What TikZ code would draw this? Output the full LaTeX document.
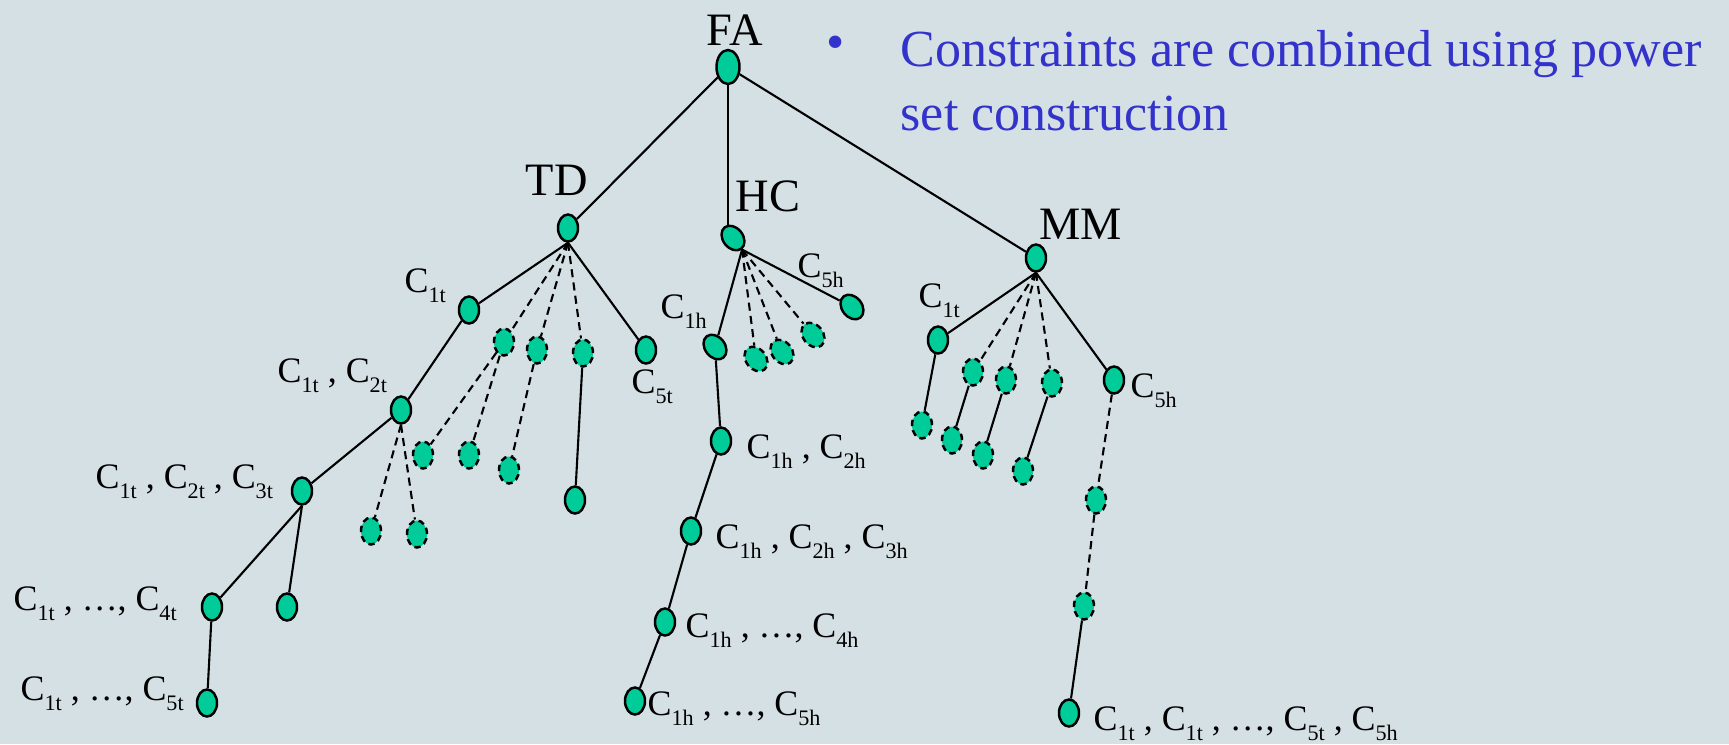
\documentclass[tikz,border=0pt]{standalone}
\usepackage{fontspec}
\setmainfont{Liberation Serif}
\usetikzlibrary{shapes.geometric}
\definecolor{bgc}{RGB}{213,224,229}
\definecolor{nodefill}{RGB}{0,204,153}
\definecolor{bluetext}{RGB}{51,51,204}
\newcommand\sbs[1]{\raisebox{-0.3em}{\fontsize{6.3}{7}\selectfont #1}}
\tikzset{
  vtx/.style={ellipse, draw=black, fill=nodefill, line width=0.7pt, inner sep=0pt, minimum width=0.2cm, minimum height=0.27cm},
  dvtx/.style={vtx, dash pattern=on 1.8pt off 1.2pt},
  tilt/.style={rotate=38},
  edge/.style={line width=0.6pt},
  dedge/.style={line width=0.6pt, dash pattern=on 2.3pt off 1.5pt},
  biglbl/.style={anchor=base west, inner sep=0pt, font=\fontsize{13.2}{15}\selectfont},
  lbl/.style={anchor=base west, inner sep=0pt, font=\fontsize{10.2}{12}\selectfont},
  bluelbl/.style={anchor=base west, inner sep=0pt, text=bluetext, font=\fontsize{14.8}{18}\selectfont}
}
\begin{document}
\begin{tikzpicture}[x=0.01cm, y=-0.01cm]
\fill[bgc] (0,0) rectangle (1729,744);
\useasboundingbox (0,0) rectangle (1729,744);

% root and main branches
\node[vtx, minimum width=0.23cm, minimum height=0.34cm] (FA) at (728,67) {};
\node[vtx] (TD) at (568,228) {};
\node[vtx, tilt] (HC) at (733,238) {};
\node[vtx] (MM) at (1036,258) {};

% TD subtree
\node[vtx] (t1) at (469,310) {};
\node[vtx] (t2) at (401,410) {};
\node[vtx] (t3) at (302,491) {};
\node[vtx] (t4) at (212,607) {};
\node[vtx] (t5) at (207,703) {};
\node[vtx] (t3b) at (287,607) {};
\node[dvtx] (t2a) at (371,531) {};
\node[dvtx] (t2b) at (417,534) {};
\node[dvtx] (td1) at (504,342) {};
\node[dvtx] (td2) at (537,350) {};
\node[dvtx] (td3) at (583,353) {};
\node[dvtx] (td1a) at (423,455) {};
\node[dvtx] (td1b) at (469,455) {};
\node[dvtx] (td2a) at (509,470) {};
\node[vtx] (td3a) at (575,500) {};
\node[vtx] (t5t) at (646,350) {};

% HC subtree
\node[vtx, tilt] (h1) at (715,347) {};
\node[vtx] (h2) at (721,441) {};
\node[vtx] (h3) at (691,531) {};
\node[vtx] (h4) at (665,622) {};
\node[vtx] (h5) at (635,701) {};
\node[dvtx, tilt] (hd1) at (756,359) {};
\node[dvtx, tilt] (hd2) at (782,352) {};
\node[dvtx, tilt] (hd3) at (813,335) {};
\node[vtx, tilt] (h5h) at (852,307) {};

% MM subtree
\node[vtx] (m1) at (938,340) {};
\node[dvtx] (md1) at (973,372) {};
\node[dvtx] (md2) at (1006,380) {};
\node[dvtx] (md3) at (1052,383) {};
\node[vtx] (m5) at (1114,380) {};
\node[dvtx] (m1a) at (922,425) {};
\node[dvtx] (md1a) at (952,440) {};
\node[dvtx] (md2a) at (983,455) {};
\node[dvtx] (md3a) at (1023,471) {};
\node[dvtx] (m5a) at (1096,500) {};
\node[dvtx] (m5b) at (1084,606) {};
\node[vtx] (m5c) at (1069,713) {};

% edges: root
\draw[edge] (FA) -- (TD);
\draw[edge] (FA.south) -- (FA.south |- HC.north);
\draw[edge] (FA) -- (MM);

% edges: TD
\draw[edge] (TD.south) -- (t1);
\draw[edge] (TD.south) -- (t5t);
\draw[dedge] (TD.south) -- (td1);
\draw[dedge] (TD.south) -- (td2);
\draw[dedge] (TD.south) -- (td3);
\draw[edge] (t1) -- (t2);
\draw[edge] (t2) -- (t3);
\draw[dedge] (t2.south) -- (t2a);
\draw[dedge] (t2.south) -- (t2b);
\draw[edge] (t3.south) -- (t4);
\draw[edge] (t3.south) -- (t3b);
\draw[edge] (t4) -- (t5);
\draw[dedge] (td1) -- (td1a);
\draw[dedge] (td1) -- (td1b);
\draw[dedge] (td2) -- (td2a);
\draw[edge] (td3) -- (td3a);

% edges: HC
\draw[edge] (HC.south) -- (h1);
\draw[edge] (HC.south) -- (h5h);
\draw[dedge] (HC.south) -- (hd1);
\draw[dedge] (HC.south) -- (hd2);
\draw[dedge] (HC.south) -- (hd3);
\draw[edge] (h1) -- (h2);
\draw[edge] (h2) -- (h3);
\draw[edge] (h3) -- (h4);
\draw[edge] (h4) -- (h5);

% edges: MM
\draw[edge] (MM.south) -- (m1);
\draw[edge] (MM.south) -- (m5);
\draw[dedge] (MM.south) -- (md1);
\draw[dedge] (MM.south) -- (md2);
\draw[dedge] (MM.south) -- (md3);
\draw[edge] (m1) -- (m1a);
\draw[edge] (md1) -- (md1a);
\draw[edge] (md2) -- (md2a);
\draw[edge] (md3) -- (md3a);
\draw[dedge] (m5) -- (m5a);
\draw[dedge] (m5a) -- (m5b);
\draw[edge] (m5b) -- (m5c);

% big labels
\node[biglbl] (lFA) at (706,45) {FA};
\node[biglbl] (lTD) at (525,195) {TD};
\node[biglbl] (lHC) at (735,211) {HC};
\node[biglbl] (lMM) at (1039,239) {MM};

% small labels
\node[lbl] (l1) at (404,292) {C\sbs{1t}};
\node[lbl] (l2) at (277,382) {C\sbs{1t} , C\sbs{2t}};
\node[lbl] (l3) at (95,488) {C\sbs{1t} , C\sbs{2t} , C\sbs{3t}};
\node[lbl] (l4) at (13,610) {C\sbs{1t} , \ldots, C\sbs{4t}};
\node[lbl] (l5) at (20,700) {C\sbs{1t} , \ldots, C\sbs{5t}};
\node[lbl] (l5t) at (631,393) {C\sbs{5t}};
\node[lbl] (lh5h) at (797,277) {C\sbs{5h}};
\node[lbl] (lh1) at (660,318) {C\sbs{1h}};
\node[lbl] (lh2) at (746,458) {C\sbs{1h} , C\sbs{2h}};
\node[lbl] (lh3) at (715,548) {C\sbs{1h} , C\sbs{2h} , C\sbs{3h}};
\node[lbl] (lh4) at (685,637) {C\sbs{1h} , \ldots, C\sbs{4h}};
\node[lbl] (lh5) at (647,715) {C\sbs{1h} , \ldots, C\sbs{5h}};
\node[lbl] (lm1) at (918,307) {C\sbs{1t}};
\node[lbl] (lm5) at (1130,397) {C\sbs{5h}};
\node[lbl] (lmf) at (1093,730) {C\sbs{1t} , C\sbs{1t} , \ldots, C\sbs{5t} , C\sbs{5h}};

% bullet text
\node[inner sep=0pt, text=bluetext, font=\fontsize{14.8}{18}\selectfont] (bul) at (836,48) {\textbullet};
\node[bluelbl] (bt1) at (900,66) {Constraints are combined using power};
\node[bluelbl] (bt2) at (900,130) {set construction};
\end{tikzpicture}
\end{document}
